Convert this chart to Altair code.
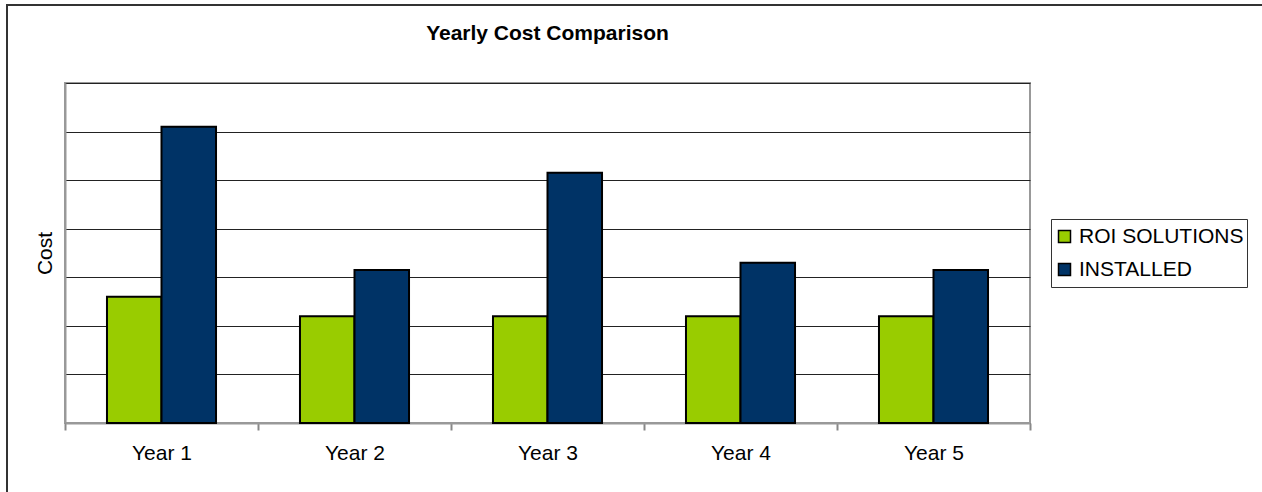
import altair as alt
import pandas as pd

years = ["Year 1", "Year 2", "Year 3", "Year 4", "Year 5"]
roi_solutions = [2.6, 2.2, 2.2, 2.2, 2.2]
installed = [6.1, 3.15, 5.15, 3.3, 3.15]
series_names = ["ROI SOLUTIONS", "INSTALLED"]
series_colors = ["#99CC00", "#003366"]
grid_values = [0, 1, 2, 3, 4, 5, 6, 7]

rows = []
for i, y in enumerate(years):
    rows.append({"year": y, "series": series_names[0], "cost": roi_solutions[i]})
    rows.append({"year": y, "series": series_names[1], "cost": installed[i]})
df = pd.DataFrame(rows)

FONT = "Liberation Sans"
FS = 21

bars = alt.Chart(df).mark_bar(stroke="black", strokeWidth=2).encode(
    x=alt.X("year:N", sort=years, title=None,
            scale=alt.Scale(paddingInner=0, paddingOuter=0),
            axis=alt.Axis(tickBand="extent", labelAngle=0, labelFontSize=FS,
                          labelColor="black", labelFont=FONT, tickSize=7,
                          tickColor="#888888", tickWidth=2, domainColor="#999999",
                          domainWidth=2, labelPadding=12, grid=False)),
    xOffset=alt.XOffset("series:N", sort=series_names,
                        scale=alt.Scale(paddingInner=0, paddingOuter=0.77)),
    y=alt.Y("cost:Q", title="Cost",
            scale=alt.Scale(domain=[0, 7], nice=False),
            axis=alt.Axis(labels=False, ticks=False,
                          values=grid_values,
                          grid=True, gridColor="#222222", gridWidth=1,
                          domainColor="#999999", domainWidth=2,
                          titleFontSize=FS, titleFont=FONT, titleFontWeight="normal",
                          titleColor="black", titlePadding=10)),
    color=alt.Color("series:N", sort=series_names,
                    scale=alt.Scale(domain=series_names, range=series_colors),
                    legend=alt.Legend(title=None, orient="none", legendX=986, legendY=136,
                                      symbolType="square", symbolSize=144,
                                      symbolStrokeColor="black", symbolStrokeWidth=1.5,
                                      labelFontSize=FS, labelFont=FONT, labelColor="black",
                                      labelOffset=4, rowPadding=4, padding=3,
                                      clipHeight=29,
                                      strokeColor="#333333", fillColor="white",
                                      symbolOpacity=1, labelLimit=300)),
)

frame_left = alt.Chart(alt.Data(values=[{}])).mark_rule(color="#333333", strokeWidth=2).encode(
    x=alt.value(-58), y=alt.value(-79), y2=alt.value(420)
)
frame_top = alt.Chart(alt.Data(values=[{}])).mark_rule(color="#333333", strokeWidth=2).encode(
    x=alt.value(-59), x2=alt.value(1250), y=alt.value(-78)
)

chart = alt.layer(bars, frame_left, frame_top).properties(
    width=965, height=340,
    autosize=alt.AutoSizeParams(type="none"),
    padding={"left": 65, "top": 83, "right": 232, "bottom": 69},
    title=alt.TitleParams("Yearly Cost Comparison", fontSize=FS, font=FONT,
                          fontWeight="bold", color="black", anchor="middle",
                          frame="group", offset=-41),
    background="white",
).configure_view(stroke="#999999", strokeWidth=2)

chart.save("out.html", embed_options={"renderer": "svg", "actions": False})
